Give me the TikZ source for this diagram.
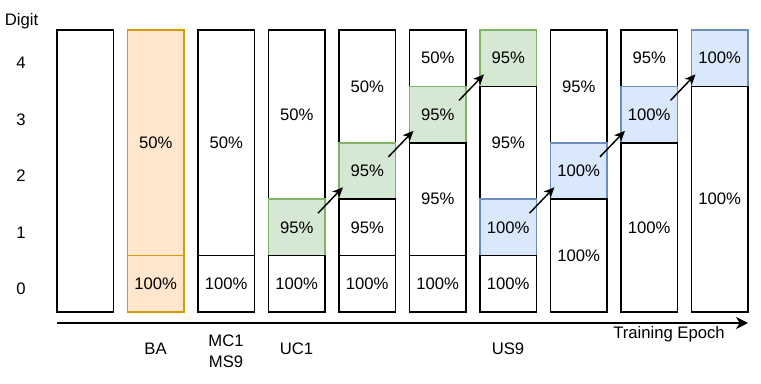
\documentclass[tikz,border=0pt]{standalone}
\usepackage{fontspec}
\setmainfont{Liberation Sans}
\usetikzlibrary{arrows.meta,calc}
\definecolor{ofill}{HTML}{FFE6CC}\definecolor{oline}{HTML}{D79B00}
\definecolor{gfill}{HTML}{D5E8D4}\definecolor{gline}{HTML}{82B366}
\definecolor{bfill}{HTML}{DAE8FC}\definecolor{bline}{HTML}{6C8EBF}
\newcommand\mkcell[6]{\node[#5, minimum height={#4*42.3pt}] (#1) at ({85.25+70.5*(#2-1)}, {312-56.4*(#3+#4/2)}) {#6};}
\begin{document}
\begin{tikzpicture}[x=0.75pt,y=-0.75pt,
  every node/.style={font=\fontsize{12.5}{16}\selectfont, inner sep=0pt, outer sep=0pt},
  cellbase/.style={rectangle, minimum width=42.375pt, line width=1.1pt},
  wbox/.style={cellbase, draw=black, fill=white},
  obox/.style={cellbase, draw=oline, fill=ofill},
  gbox/.style={cellbase, draw=gline, fill=gfill},
  bbox/.style={cellbase, draw=bline, fill=bfill},
  arr/.style={line width=1.1pt, -{Stealth[length=8pt,width=7pt,inset=2.2pt]}},
  lbl/.style={align=center}]
\useasboundingbox (0,0) rectangle (761,384);
% digit labels
\node[lbl] (digit) at (21.5,21) {Digit};
\node[lbl] (d4) at (21,63) {4};
\node[lbl] (d3) at (21,119.5) {3};
\node[lbl] (d2) at (21,176) {2};
\node[lbl] (d1) at (21,232.5) {1};
\node[lbl] (d0) at (21,289) {0};
% columns
\mkcell{c1}{1}{0}{5}{wbox}{}
\mkcell{c2a}{2}{1}{4}{obox}{50\%}
\mkcell{c2b}{2}{0}{1}{obox}{100\%}
\mkcell{c3a}{3}{1}{4}{wbox}{50\%}
\mkcell{c3b}{3}{0}{1}{wbox}{100\%}
\mkcell{c4a}{4}{2}{3}{wbox}{50\%}
\mkcell{c4g}{4}{1}{1}{gbox}{95\%}
\mkcell{c4b}{4}{0}{1}{wbox}{100\%}
\mkcell{c5a}{5}{3}{2}{wbox}{50\%}
\mkcell{c5g}{5}{2}{1}{gbox}{95\%}
\mkcell{c5c}{5}{1}{1}{wbox}{95\%}
\mkcell{c5b}{5}{0}{1}{wbox}{100\%}
\mkcell{c6a}{6}{4}{1}{wbox}{50\%}
\mkcell{c6g}{6}{3}{1}{gbox}{95\%}
\mkcell{c6c}{6}{1}{2}{wbox}{95\%}
\mkcell{c6b}{6}{0}{1}{wbox}{100\%}
\mkcell{c7g}{7}{4}{1}{gbox}{95\%}
\mkcell{c7c}{7}{2}{2}{wbox}{95\%}
\mkcell{c7u}{7}{1}{1}{bbox}{100\%}
\mkcell{c7b}{7}{0}{1}{wbox}{100\%}
\mkcell{c8a}{8}{3}{2}{wbox}{95\%}
\mkcell{c8u}{8}{2}{1}{bbox}{100\%}
\mkcell{c8b}{8}{0}{2}{wbox}{100\%}
\mkcell{c9a}{9}{4}{1}{wbox}{95\%}
\mkcell{c9u}{9}{3}{1}{bbox}{100\%}
\mkcell{c9b}{9}{0}{3}{wbox}{100\%}
\mkcell{c10u}{10}{4}{1}{bbox}{100\%}
\mkcell{c10b}{10}{0}{4}{wbox}{100\%}
% arrows
\draw[arr] ($(c4g.north east)+(-7,14)$) -- ($(c5g.south west)+(4,-12)$);
\draw[arr] ($(c5g.north east)+(-7,14)$) -- ($(c6g.south west)+(4,-12)$);
\draw[arr] ($(c6g.north east)+(-7,14)$) -- ($(c7g.south west)+(4,-12)$);
\draw[arr] ($(c7u.north east)+(-7,14)$) -- ($(c8u.south west)+(4,-12)$);
\draw[arr] ($(c8u.north east)+(-7,14)$) -- ($(c9u.south west)+(4,-12)$);
\draw[arr] ($(c9u.north east)+(-7,14)$) -- ($(c10u.south west)+(4,-12)$);
% axis
\coordinate (ax0) at (57,323);
\coordinate (ax1) at (748,323);
\draw[line width=1.1pt, -{Stealth[length=9pt,width=9pt,inset=2.8pt]}] (ax0) -- (ax1);
\node[lbl] (epoch) at (669,334) {Training Epoch};
% method labels
\node[lbl] (ba) at (155.5,349) {BA};
\node[lbl] (mc) at (226,351) {MC1\\MS9};
\node[lbl] (uc) at (296.5,349) {UC1};
\node[lbl] (us) at (508,349) {US9};
\end{tikzpicture}
\end{document}
